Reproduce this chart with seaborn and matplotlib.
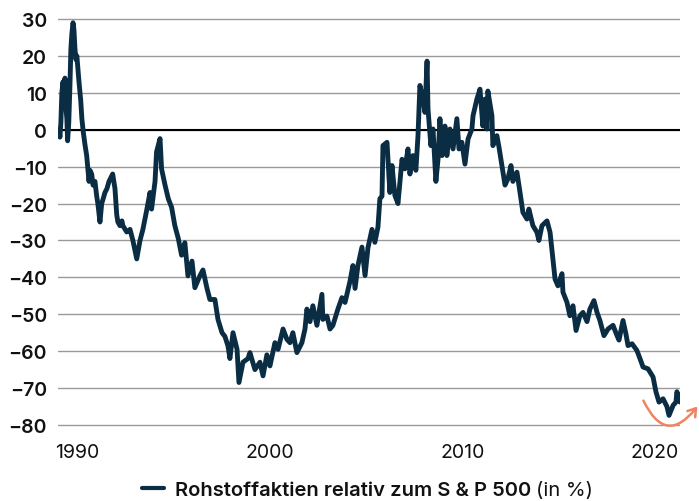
import matplotlib
matplotlib.use("Agg")
import matplotlib.pyplot as plt
import seaborn as sns
import pandas as pd

# ---- data ----
years = [
    1989.05, 1989.09, 1989.14, 1989.19, 1989.25, 1989.30, 1989.35, 1989.40, 1989.45, 1989.49,
    1989.55, 1989.61, 1989.66, 1989.71, 1989.77, 1989.82, 1989.87, 1989.92, 1989.97, 1990.03,
    1990.08, 1990.17, 1990.23, 1990.30, 1990.39, 1990.48, 1990.55, 1990.60, 1990.65, 1990.74,
    1990.81, 1990.91, 1991.00, 1991.06, 1991.17, 1991.26, 1991.32, 1991.43, 1991.53, 1991.64,
    1991.83, 1991.95, 1992.04, 1992.10, 1992.21, 1992.31, 1992.36, 1992.56, 1992.73, 1992.88,
    1993.08, 1993.25, 1993.40, 1993.59, 1993.77, 1993.85, 1994.03, 1994.11, 1994.29, 1994.37,
    1994.55, 1994.72, 1994.89, 1995.06, 1995.24, 1995.41, 1995.58, 1995.74, 1995.95, 1996.10,
    1996.36, 1996.52, 1996.73, 1996.88, 1997.14, 1997.30, 1997.51, 1997.66, 1997.82, 1997.92,
    1998.08, 1998.29, 1998.39, 1998.60, 1998.86, 1998.96, 1999.22, 1999.48, 1999.64, 1999.84,
    2000.00, 2000.26, 2000.42, 2000.68, 2000.88, 2001.04, 2001.19, 2001.40, 2001.66, 2001.82,
    2001.92, 2002.08, 2002.23, 2002.44, 2002.70, 2002.75, 2002.96, 2003.12, 2003.27, 2003.53,
    2003.74, 2003.90, 2004.16, 2004.31, 2004.42, 2004.57, 2004.78, 2004.94, 2005.09, 2005.30,
    2005.45, 2005.61, 2005.71, 2005.82, 2005.87, 2006.08, 2006.23, 2006.34, 2006.49, 2006.65,
    2006.86, 2007.01, 2007.17, 2007.27, 2007.43, 2007.58, 2007.69, 2007.79, 2007.95, 2008.05,
    2008.16, 2008.21, 2008.36, 2008.47, 2008.62, 2008.73, 2008.83, 2008.94, 2009.09, 2009.19,
    2009.35, 2009.51, 2009.71, 2009.82, 2009.97, 2010.13, 2010.29, 2010.49, 2010.55, 2010.75,
    2010.91, 2011.06, 2011.17, 2011.27, 2011.32, 2011.53, 2011.58, 2011.79, 2011.90, 2012.05,
    2012.21, 2012.36, 2012.52, 2012.62, 2012.83, 2012.99, 2013.14, 2013.35, 2013.45, 2013.66,
    2013.87, 2013.97, 2014.13, 2014.39, 2014.55, 2014.70, 2014.81, 2014.96, 2015.17, 2015.22,
    2015.43, 2015.58, 2015.74, 2015.90, 2016.10, 2016.26, 2016.47, 2016.62, 2016.83, 2016.99,
    2017.14, 2017.35, 2017.56, 2017.82, 2018.03, 2018.13, 2018.34, 2018.49, 2018.60, 2018.81,
    2019.06, 2019.22, 2019.38, 2019.64, 2019.90, 2020.05, 2020.21, 2020.42, 2020.62, 2020.73,
    2020.94, 2021.09, 2021.14, 2021.30,
]
relative_pct = [
    0.0, -2.0, 2.0, 10.0, 13.0, 8.0, 14.0, 6.0, 3.0, -3.0,
    2.0, 12.0, 22.0, 26.0, 29.0, 27.0, 22.0, 19.0, 20.0, 16.0,
    13.0, 8.0, 3.0, -0.5, -4.0, -7.0, -11.0, -14.0, -11.0, -12.0,
    -15.0, -14.0, -18.0, -20.0, -25.0, -20.0, -19.0, -17.0, -16.0, -14.0,
    -12.0, -16.0, -23.0, -25.0, -26.0, -24.7, -26.0, -27.7, -27.0, -30.0,
    -35.0, -30.0, -27.0, -22.0, -17.0, -21.5, -14.0, -6.0, -2.4, -10.6,
    -15.0, -18.7, -21.0, -26.0, -29.5, -34.0, -30.6, -39.6, -35.6, -42.8,
    -39.6, -38.0, -43.0, -46.0, -46.0, -51.4, -55.0, -56.0, -58.6, -62.0,
    -55.0, -59.5, -68.5, -63.0, -62.0, -60.4, -65.0, -63.0, -66.7, -61.0,
    -64.0, -57.7, -59.5, -54.0, -56.8, -57.7, -55.0, -60.4, -57.7, -54.0,
    -48.6, -52.0, -47.7, -53.0, -44.6, -51.4, -50.5, -54.0, -53.0, -48.6,
    -45.5, -46.8, -41.0, -36.8, -43.0, -36.8, -31.8, -39.5, -32.0, -27.0,
    -30.5, -26.4, -18.7, -18.0, -4.3, -3.4, -17.0, -9.7, -17.8, -20.0,
    -8.0, -10.6, -5.2, -12.0, -7.0, -11.0, -1.6, 12.0, 8.3, 4.7,
    18.6, 5.6, -4.3, 0.2, -14.0, -8.0, 3.0, -7.0, 1.0, -7.0,
    0.2, -5.2, 3.0, -5.2, -3.4, -9.3, -2.5, 0.2, 3.8, 8.3,
    11.0, 1.0, 8.3, 0.2, 10.5, 3.8, -4.3, -1.6, -4.8, -9.7,
    -15.0, -13.3, -9.7, -14.0, -11.5, -17.0, -22.4, -24.2, -21.5, -26.0,
    -27.8, -30.0, -26.0, -24.7, -27.8, -35.0, -40.5, -42.3, -39.0, -44.0,
    -46.8, -50.4, -47.7, -54.4, -50.4, -49.5, -52.0, -48.6, -46.3, -49.5,
    -51.7, -55.8, -54.0, -53.0, -55.8, -57.0, -51.7, -55.3, -58.5, -58.0,
    -59.8, -62.0, -64.3, -64.8, -67.0, -71.0, -73.8, -72.9, -75.0, -77.4,
    -74.7, -73.8, -71.0, -73.8,
]
y_ticks = [30, 20, 10, 0, -10, -20, -30, -40, -50, -60, -70, -80]
x_ticks = [1990, 2000, 2010, 2020]
series_label = "Rohstoffaktien relativ zum S & P 500"
unit_label = "(in %)"

LINE_COLOR = "#0b2d44"
ARROW_COLOR = "#f0845f"

sns.set_theme(style="white")
plt.rcParams["font.family"] = ["Inter", "DejaVu Sans"]

df = pd.DataFrame({"Jahr": years, "Wert": relative_pct})

fig = plt.figure(figsize=(6.99, 5.02), dpi=100)
ax = fig.add_axes([58 / 699, 1 - 427.8 / 502, (680 - 58) / 699, (427.8 - 18.2) / 502])

sns.lineplot(data=df, x="Jahr", y="Wert", ax=ax, color=LINE_COLOR, linewidth=3.5,
             label=series_label, zorder=3)

ax.set_xlim(1988.99, 2021.30)
ax.set_ylim(-80.5, 30.5)
ax.set_yticks(y_ticks)
ax.set_xticks(x_ticks)
ax.set_yticklabels([("\u2212" + str(abs(v))) if v < 0 else str(v) for v in y_ticks],
                   fontsize=14, fontweight="semibold", color="#111111")
ax.set_xticklabels([str(v) for v in x_ticks], fontsize=14, color="#111111")
ax.tick_params(axis="y", length=0, pad=8)
ax.tick_params(axis="x", length=0, pad=12)
ax.set_xlabel("")
ax.set_ylabel("")
for s in ax.spines.values():
    s.set_visible(False)
ax.grid(axis="y", color="#9a9a9a", linewidth=1.0, zorder=0)
ax.grid(axis="x", visible=False)
ax.axhline(0, color="#000000", linewidth=1.5, zorder=2)

# orange curved arrow near the end of the series
ax.annotate("", xy=(2022.2, -75.0), xytext=(2019.4, -73.4),
            arrowprops=dict(arrowstyle="->,head_length=0.45,head_width=0.3",
                            color=ARROW_COLOR, lw=1.8,
                            connectionstyle="arc3,rad=0.8",
                            shrinkA=0, shrinkB=0),
            annotation_clip=False, zorder=4)

leg = ax.legend(loc="center left", bbox_to_anchor=(142 / 699, 1 - 491 / 502),
                bbox_transform=fig.transFigure, frameon=False, fontsize=14.5,
                handlelength=1.1, handletextpad=0.55, borderpad=0, borderaxespad=0)
for line in leg.get_lines():
    line.set_linewidth(3.0)
for t in leg.get_texts():
    t.set_fontweight("semibold")
    t.set_color("#111111")

fig.canvas.draw()
bb = leg.get_texts()[0].get_window_extent()
x0, y0 = fig.transFigure.inverted().transform((bb.x1 + 5, (bb.y0 + bb.y1) / 2))
fig.text(x0, y0, unit_label, fontsize=14.5, color="#111111", va="center", ha="left")

fig.savefig("out.png", dpi=100)
